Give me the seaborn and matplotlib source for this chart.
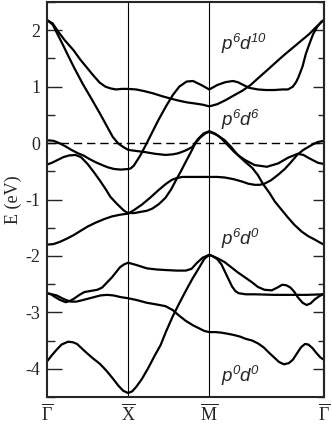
import numpy as np
import pandas as pd
import matplotlib
matplotlib.use('Agg')
import matplotlib.pyplot as plt
import seaborn as sns

# high-symmetry points along the path  G - X - M - G
k_ticks = [0.0, 1.0, 2.0, 3.414]
k_labels = [r'$\overline{\Gamma}$', r'$\overline{\mathrm{X}}$', r'$\overline{\mathrm{M}}$', r'$\overline{\Gamma}$']

# band energies (eV), band by band along the path
band1_k = [0, 0.07, 0.14, 0.22, 0.33, 0.41, 0.49, 0.57, 0.65, 0.72, 0.78, 0.85, 0.92, 1.0,
           1.1, 1.2, 1.31, 1.42, 1.52, 1.63, 1.73, 1.83, 1.92, 2.0,
           2.1, 2.2, 2.31, 2.41, 2.51, 2.61, 2.72, 2.82, 2.93, 3.03, 3.13, 3.23, 3.32, 3.38, 3.414]
band1_E = [2.18, 2.12, 1.97, 1.82, 1.64, 1.48, 1.34, 1.2, 1.07, 1.0, 0.97, 0.95, 0.96, 0.96,
           0.95, 0.92, 0.88, 0.83, 0.79, 0.75, 0.72, 0.7, 0.68, 0.65,
           0.69, 0.76, 0.85, 0.93, 1.03, 1.16, 1.3, 1.43, 1.57, 1.69, 1.81, 1.93, 2.06, 2.14, 2.18]

band2_k = [0, 0.07, 0.14, 0.2, 0.25, 0.34, 0.44, 0.55, 0.65, 0.73, 0.81, 0.88, 0.94, 1.0,
           1.1, 1.21, 1.33, 1.46, 1.55, 1.62, 1.71, 1.79, 1.86, 1.93, 2.0,
           2.07, 2.15, 2.23, 2.31, 2.38, 2.44, 2.56, 2.71, 2.85, 2.97, 3.09, 3.16, 3.22, 3.34, 3.414]
band2_E = [2.18, 2.1, 1.9, 1.73, 1.58, 1.32, 1.05, 0.78, 0.53, 0.32, 0.11, -0.01, -0.07, -0.12,
           -0.14, -0.16, -0.19, -0.21, -0.2, -0.18, -0.13, -0.07, 0.07, 0.17, 0.21,
           0.17, 0.08, -0.04, -0.16, -0.24, -0.3, -0.39, -0.42, -0.36, -0.26, -0.19, -0.21, -0.26, -0.35, -0.37]

band3_k = [0, 0.08, 0.15, 0.23, 0.3, 0.38, 0.45, 0.52, 0.6, 0.68, 0.75, 0.83, 0.91, 1.0,
           1.03, 1.07, 1.11, 1.15, 1.19, 1.23, 1.3, 1.37, 1.47, 1.55, 1.63, 1.72, 1.8, 1.9, 2.0,
           2.1, 2.2, 2.29, 2.35, 2.42, 2.49, 2.6, 2.7, 2.8, 2.9, 2.97, 3.03, 3.07, 3.1, 3.15,
           3.19, 3.24, 3.28, 3.33, 3.38, 3.414]
band3_E = [0.05, 0.04, 0.0, -0.06, -0.12, -0.18, -0.22, -0.28, -0.34, -0.39, -0.43, -0.46, -0.47, -0.46,
           -0.45, -0.4, -0.31, -0.22, -0.11, 0.0, 0.2, 0.4, 0.66, 0.85, 1.0, 1.09, 1.1, 1.03, 0.95,
           1.03, 1.08, 1.1, 1.08, 1.03, 0.98, 0.95, 0.94, 0.94, 0.95, 0.95, 1.0, 1.08, 1.17, 1.36,
           1.58, 1.78, 1.93, 2.06, 2.15, 2.18]

band4_k = [0, 0.06, 0.13, 0.2, 0.27, 0.35, 0.42, 0.5, 0.58, 0.65, 0.72, 0.78, 0.85, 0.9, 0.95, 1.0,
           1.08, 1.15, 1.23, 1.3, 1.38, 1.46, 1.53, 1.6, 1.65, 1.7, 1.77, 1.83, 1.89, 1.95, 2.0,
           2.1, 2.19, 2.27, 2.35, 2.44, 2.53, 2.6, 2.66, 2.74, 2.81, 2.89, 2.97, 3.05, 3.14,
           3.22, 3.3, 3.36, 3.414]
band4_E = [-0.38, -0.35, -0.3, -0.25, -0.22, -0.21, -0.25, -0.37, -0.52, -0.66, -0.81, -0.95, -1.06, -1.13, -1.2, -1.24,
           -1.24, -1.22, -1.2, -1.16, -1.08, -0.97, -0.82, -0.63, -0.5, -0.36, -0.17, 0.0, 0.1, 0.17, 0.2,
           0.14, 0.05, -0.07, -0.21, -0.33, -0.44, -0.57, -0.72, -0.88, -1.04, -1.18, -1.32, -1.45, -1.57,
           -1.65, -1.71, -1.76, -1.8]

band5_k = [0, 0.08, 0.16, 0.25, 0.33, 0.42, 0.5, 0.6, 0.7, 0.8, 0.9, 1.0,
           1.08, 1.17, 1.27, 1.37, 1.46, 1.54, 1.6, 1.67, 1.8, 1.9, 2.0,
           2.1, 2.19, 2.3, 2.4, 2.48, 2.56, 2.62, 2.68, 2.76, 2.85, 2.93, 3.0, 3.09, 3.16,
           3.22, 3.28, 3.34, 3.414]
band5_E = [-1.8, -1.79, -1.75, -1.69, -1.63, -1.55, -1.48, -1.41, -1.35, -1.3, -1.27, -1.25,
           -1.18, -1.09, -0.97, -0.84, -0.73, -0.65, -0.62, -0.6, -0.6, -0.6, -0.6,
           -0.6, -0.61, -0.64, -0.68, -0.72, -0.74, -0.74, -0.72, -0.66, -0.56, -0.46, -0.35, -0.2, -0.12,
           -0.07, -0.02, 0.02, 0.04]

band6_k = [0, 0.05, 0.09, 0.16, 0.23, 0.28, 0.33, 0.4, 0.46, 0.54, 0.62, 0.68, 0.74, 0.8, 0.85, 0.9, 0.95, 1.0,
           1.1, 1.23, 1.35, 1.46, 1.6, 1.71, 1.78, 1.85, 1.92, 2.0,
           2.1, 2.19, 2.27, 2.35, 2.44, 2.52, 2.6, 2.68, 2.77, 2.84, 2.9, 2.95, 3.0, 3.05, 3.09,
           3.15, 3.2, 3.25, 3.3, 3.36, 3.414]
band6_E = [-2.66, -2.68, -2.72, -2.78, -2.82, -2.8, -2.76, -2.69, -2.64, -2.62, -2.6, -2.56, -2.47, -2.38, -2.29, -2.2, -2.15, -2.12,
           -2.16, -2.22, -2.24, -2.25, -2.26, -2.26, -2.23, -2.12, -2.03, -1.98,
           -2.04, -2.11, -2.2, -2.29, -2.38, -2.46, -2.55, -2.6, -2.61, -2.56, -2.51, -2.52, -2.56, -2.64, -2.73,
           -2.83, -2.87, -2.84, -2.77, -2.71, -2.67]

band7_k = [0, 0.06, 0.12, 0.2, 0.25, 0.3, 0.36, 0.42, 0.5, 0.58, 0.66, 0.74, 0.82, 0.91, 1.0,
           1.1, 1.23, 1.35, 1.46, 1.55, 1.63, 1.71, 1.8, 1.87, 1.94, 2.0,
           2.08, 2.15, 2.23, 2.3, 2.38, 2.45, 2.53, 2.6, 2.67, 2.74, 2.8, 2.86, 2.92, 2.98, 3.03,
           3.08, 3.13, 3.18, 3.22, 3.27, 3.32, 3.37, 3.414]
band7_E = [-2.66, -2.68, -2.7, -2.76, -2.79, -2.81, -2.81, -2.79, -2.76, -2.73, -2.7, -2.69, -2.7, -2.73, -2.75,
           -2.78, -2.83, -2.86, -2.89, -2.96, -3.06, -3.15, -3.23, -3.28, -3.33, -3.35,
           -3.35, -3.36, -3.38, -3.4, -3.43, -3.47, -3.5, -3.55, -3.62, -3.72, -3.8, -3.88, -3.92, -3.9, -3.84,
           -3.73, -3.62, -3.56, -3.57, -3.63, -3.72, -3.8, -3.84]

band8_k = [0, 0.06, 0.12, 0.18, 0.26, 0.32, 0.37, 0.43, 0.49, 0.57, 0.65, 0.73, 0.81, 0.88, 0.94, 1.0,
           1.05, 1.1, 1.17, 1.25, 1.33, 1.4, 1.47, 1.55, 1.63, 1.71, 1.79, 1.87, 1.94, 2.0,
           2.05, 2.1, 2.15, 2.19, 2.24, 2.28, 2.32, 2.36, 2.45, 2.56, 2.8, 3.0, 3.2, 3.414]
band8_E = [-3.87, -3.76, -3.66, -3.57, -3.52, -3.53, -3.56, -3.64, -3.72, -3.82, -3.91, -4.03, -4.17, -4.3, -4.39, -4.43,
           -4.4, -4.32, -4.18, -3.98, -3.76, -3.58, -3.33, -3.07, -2.84, -2.62, -2.41, -2.22, -2.05, -1.98,
           -2.01, -2.06, -2.15, -2.27, -2.42, -2.54, -2.62, -2.66, -2.68, -2.68, -2.69, -2.69, -2.69, -2.68]

# occupation labels
label_texts = [r'$\mathsf{p^{6}d^{10}}$', r'$\mathsf{p^{6}d^{6}}$', r'$\mathsf{p^{6}d^{0}}$', r'$\mathsf{p^{0}d^{0}}$']
label_k = [2.14, 2.14, 2.14, 2.14]
label_E = [1.65, 0.3, -1.8, -4.24]

bands = [(band1_k, band1_E), (band2_k, band2_E), (band3_k, band3_E), (band4_k, band4_E),
         (band5_k, band5_E), (band6_k, band6_E), (band7_k, band7_E), (band8_k, band8_E)]
rows = []
for i, (kk, ee) in enumerate(bands):
    for kv, ev in zip(kk, ee):
        rows.append({'band': i, 'k': kv, 'E': ev})
df = pd.DataFrame(rows)

sns.set_style('ticks')
plt.rcParams['font.family'] = ['Liberation Serif', 'DejaVu Serif']
plt.rcParams['mathtext.fontset'] = 'custom'
plt.rcParams['mathtext.rm'] = 'Liberation Serif'
plt.rcParams['mathtext.it'] = 'Liberation Serif:italic'
plt.rcParams['mathtext.sf'] = 'Liberation Sans:italic'
plt.rcParams['axes.unicode_minus'] = False

fig = plt.figure(figsize=(3.32, 4.24), dpi=100)
ax = fig.add_axes([47 / 332, 1 - 397 / 424, 277 / 332, 395 / 424])

sns.lineplot(data=df, x='k', y='E', units='band', estimator=None, sort=False,
             color='black', linewidth=1.6, ax=ax, legend=False)

ax.axhline(0, color='black', linewidth=1.0, dashes=(6, 3.5))
for kv in k_ticks[1:3]:
    ax.axvline(kv, color='black', linewidth=0.8)

for txt, kv, ev in zip(label_texts, label_k, label_E):
    ax.text(kv, ev, txt, fontsize=13.5, ha='left', va='baseline')

ax.set_xlim(k_ticks[0], k_ticks[-1])
ax.set_ylim(-4.5, 2.5)
ax.set_xticks(k_ticks)
ax.set_xticklabels(k_labels, fontsize=13)
ax.set_yticks([-4, -3, -2, -1, 0, 1, 2])
ax.set_yticks(np.arange(-4.5, 2.6, 0.5), minor=True)
ax.tick_params(axis='y', which='major', direction='in', length=10.5, width=1.0, labelsize=13, pad=5)
ax.tick_params(axis='y', which='minor', direction='in', length=5.5, width=1.0)
ax.tick_params(axis='x', length=0, pad=5)
ax.set_xlabel('')
ax.set_ylabel('E (eV)', fontsize=13, labelpad=2)
for sp in ax.spines.values():
    sp.set_linewidth(1.5)

right = ax.secondary_yaxis('right')
right.set_yticks([-4, -3, -2, -1, 0, 1, 2])
right.set_yticks(np.arange(-4.5, 2.6, 0.5), minor=True)
right.tick_params(which='major', direction='in', length=8, width=1.0, labelright=False)
right.tick_params(which='minor', direction='in', length=4.5, width=1.0)
right.spines['right'].set_linewidth(1.5)

fig.savefig('out.png', dpi=100)
